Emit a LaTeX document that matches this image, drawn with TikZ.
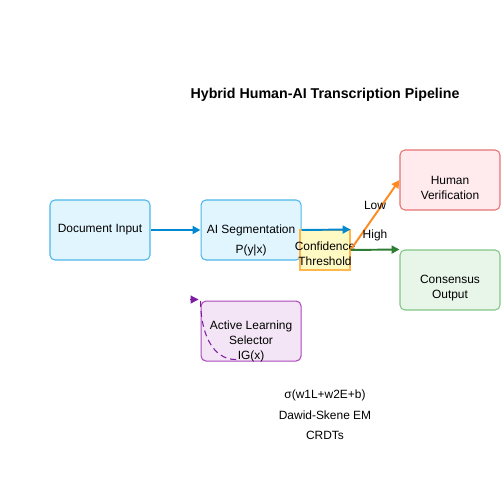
\documentclass[tikz,border=0pt]{standalone}
\usepackage{fontspec}
\setmainfont{Liberation Sans}
\usetikzlibrary{arrows.meta,positioning}

\definecolor{bluefill}{HTML}{E1F5FE}
\definecolor{blueline}{HTML}{4DB6EA}
\definecolor{blueflow}{HTML}{0288D1}
\definecolor{yellowfill}{HTML}{FFF9C4}
\definecolor{yellowline}{HTML}{FFB74D}
\definecolor{redfill}{HTML}{FFEBEE}
\definecolor{redline}{HTML}{E57373}
\definecolor{greenfill}{HTML}{E8F5E9}
\definecolor{greenline}{HTML}{81C784}
\definecolor{greenflow}{HTML}{2E7D32}
\definecolor{purplefill}{HTML}{F3E5F5}
\definecolor{purpleline}{HTML}{AB47BC}
\definecolor{purpleflow}{HTML}{7B1FA2}
\definecolor{orangeflow}{HTML}{FF8A1F}

\tikzset{
  stage/.style={draw,rounded corners=2.8pt,line width=0.6pt,minimum width=2cm,minimum height=1.2cm,font=\fontsize{6.8}{8.5}\selectfont,align=center},
  lbl/.style={font=\fontsize{6.8}{8.5}\selectfont,align=center,text=black},
  flow/.style={line width=1.1pt,-{Triangle[length=4.5pt,width=4.5pt]}}
}

\begin{document}
\begin{tikzpicture}[x=0.02cm,y=-0.02cm]
\useasboundingbox (0,0) rectangle (500,500);

\node[font=\bfseries\fontsize{8.1}{10}\selectfont] (Title) at (325,95) {Hybrid Human-AI Transcription Pipeline};

\node[stage,fill=bluefill,draw=blueline] (Doc) at (100,230) {Document Input};
\node[stage,fill=bluefill,draw=blueline,right=1cm of Doc] (Seg) {AI Segmentation};
\node[lbl] (Pyx) at ([yshift=-0.4cm]Seg.center) {P(y|x)};

\node[draw=yellowline,fill=yellowfill,line width=0.6pt,minimum width=1cm,minimum height=0.8cm,inner sep=0pt] (Conf) at (325,250) {};
\node[lbl] (ConfTxt) at ([yshift=-0.07cm]Conf.center) {Confidence\\Threshold};

\node[stage,fill=redfill,draw=redline] (Human) at (450,180) {};
\node[lbl] (HumanTxt) at ([yshift=-0.15cm]Human.center) {Human\\Verification};
\node[stage,fill=greenfill,draw=greenline] (Consensus) at (450,280) {};
\node[lbl] (ConsensusTxt) at ([yshift=-0.16cm]Consensus.center) {Consensus\\Output};

\node[stage,fill=purplefill,draw=purpleline,below=0.8cm of Seg] (Active) {};
\node[lbl] (ActiveTxt) at ([yshift=-0.2cm]Active.center) {Active Learning\\Selector\\IG(x)};

\draw[flow,blueflow] (Doc) -- (Seg);
\draw[flow,blueflow] (Seg.east) -- (Conf.north east);
\draw[flow,orangeflow] (Conf.east) -- node[lbl,yshift=0.2cm] (Low) {Low} (Human.west);
\draw[flow,greenflow] (Conf.east) -- node[lbl,yshift=0.28cm] (High) {High} (Consensus.north west);

\coordinate (Fb) at ([shift={(-15,-2)}]Active.south);
\coordinate (FbTip) at ([shift={(-2,-1)}]Active.north west);
\draw[purpleflow,line width=0.6pt,dash pattern=on 3.4pt off 2.3pt]
  (Fb) .. controls +(-25,0) and +(0,30) .. (Active.north west);
\draw[purpleflow,line width=0.6pt,-{Triangle[length=4.5pt,width=4.5pt]}] ([xshift=-0.18cm]FbTip) -- (FbTip);

\foreach \t [count=\n] in {σ(w1L+w2E+b),Dawid-Skene EM,CRDTs}
  \node[lbl] (Note\n) at (325,375+20*\n) {\t};
\end{tikzpicture}
\end{document}
